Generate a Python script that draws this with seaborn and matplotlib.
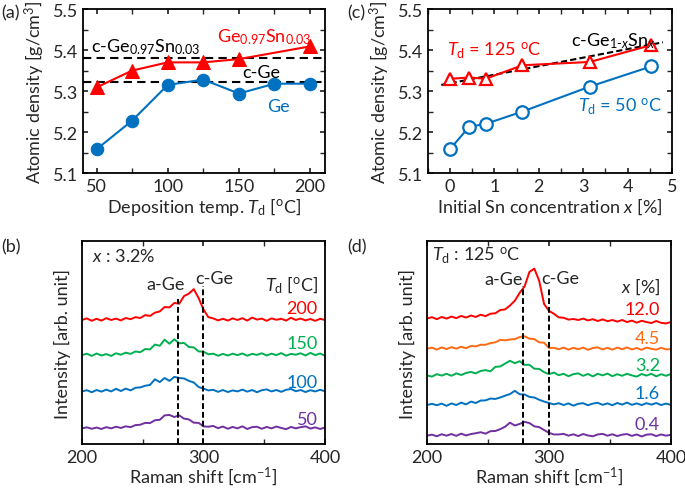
import numpy as np
import pandas as pd
import matplotlib
matplotlib.use("Agg")
import matplotlib.pyplot as plt
from matplotlib.ticker import MultipleLocator
import seaborn as sns

# ---------------- data ----------------
# (a) atomic density vs deposition temperature
temp_ge = [50, 75, 100, 125, 150, 175, 200]
dens_ge = [5.158, 5.228, 5.315, 5.328, 5.294, 5.318, 5.318]
temp_gesn = [50, 75, 100, 125, 150, 200]
dens_gesn = [5.309, 5.350, 5.370, 5.370, 5.378, 5.409]
c_ge_ref = 5.322
c_gesn_ref = 5.380

# (c) atomic density vs initial Sn concentration
sn_conc = [0.0, 0.43, 0.8, 1.63, 3.15, 4.53]
dens_125 = [5.330, 5.333, 5.330, 5.363, 5.371, 5.412]
dens_50 = [5.159, 5.213, 5.220, 5.250, 5.311, 5.360]
vegard_x = [-0.2, 4.8]
vegard_y = [5.315, 5.419]

# Raman spectra, 200-400 cm-1 sampled every 4 cm-1
raman_shift = np.arange(200, 401, 4)

b_labels = ["200", "150", "100", "50"]
b_spectra = [
    [0.00, 0.08, -0.04, 0.06, -0.03, 0.09, 0.00, 0.07, -0.02, 0.10, 0.04, 0.14, 0.10, 0.24, 0.20, 0.36, 0.42,
     0.64, 0.62, 0.84, 0.80, 1.18, 1.30, 1.52, 1.08, 0.52, 0.14, 0.08, -0.02, 0.06, -0.03, 0.08, 0.00, 0.09,
     -0.03, 0.12, 0.02, 0.07, -0.04, 0.08, 0.01, 0.06, -0.03, 0.11, 0.00, 0.07, -0.02, 0.05, -0.04, 0.06, 0.00],
    [0.00, 0.07, -0.04, 0.08, -0.02, 0.05, -0.04, 0.09, 0.02, 0.12, 0.06, 0.18, 0.14, 0.30, 0.28, 0.52, 0.46,
     0.76, 0.56, 0.78, 0.58, 0.60, 0.40, 0.38, 0.18, 0.17, 0.04, 0.07, -0.03, 0.06, -0.02, 0.07, 0.00, 0.08,
     -0.03, 0.06, 0.01, 0.09, -0.02, 0.07, 0.00, 0.10, -0.03, 0.06, 0.02, 0.09, -0.02, 0.11, 0.00, 0.08, -0.03],
    [0.00, 0.06, -0.04, 0.07, -0.01, 0.09, 0.00, 0.13, 0.02, 0.14, 0.05, 0.18, 0.20, 0.28, 0.32, 0.60, 0.46,
     0.66, 0.52, 0.72, 0.66, 0.64, 0.52, 0.44, 0.22, 0.14, 0.05, 0.08, -0.02, 0.07, -0.03, 0.05, 0.00, 0.09,
     -0.01, 0.07, -0.04, 0.06, 0.10, 0.00, 0.07, -0.02, 0.08, 0.12, 0.01, 0.07, -0.03, 0.06, 0.00, 0.08, 0.01],
    [0.00, 0.05, -0.02, 0.04, -0.03, 0.06, 0.00, 0.08, 0.02, 0.10, 0.06, 0.16, 0.18, 0.27, 0.26, 0.40, 0.42,
     0.64, 0.66, 0.56, 0.64, 0.48, 0.44, 0.28, 0.27, 0.10, 0.08, 0.12, 0.01, 0.09, -0.02, 0.07, 0.00, 0.10,
     -0.03, 0.06, 0.08, -0.02, 0.07, 0.00, 0.09, 0.02, -0.04, 0.07, 0.00, 0.06, 0.10, -0.01, 0.05, -0.03, 0.04],
]

d_labels = ["12.0", "4.5", "3.2", "1.6", "0.4"]
d_spectra = [
    [0.00, 0.07, -0.03, 0.08, 0.00, 0.10, 0.02, 0.13, 0.05, 0.15, 0.08, 0.19, 0.12, 0.24, 0.26, 0.42, 0.45,
     0.64, 0.88, 1.27, 1.58, 2.30, 2.46, 1.86, 0.72, 0.38, 0.24, 0.06, 0.04, -0.05, -0.02, -0.07, 0.00, -0.09,
     -0.03, -0.12, -0.04, -0.13, -0.07, -0.15, -0.07, -0.17, -0.10, -0.20, -0.11, -0.17, -0.22, -0.12, -0.21,
     -0.24, -0.17],
    [0.00, 0.06, -0.04, 0.07, -0.01, 0.08, 0.01, 0.10, 0.03, 0.14, 0.12, 0.20, 0.20, 0.28, 0.32, 0.44, 0.42,
     0.46, 0.48, 0.58, 0.62, 0.50, 0.48, 0.32, 0.30, 0.04, 0.05, -0.02, 0.06, -0.04, 0.05, -0.02, 0.06, -0.05,
     0.04, 0.07, -0.03, 0.05, -0.04, 0.06, -0.02, 0.07, -0.03, 0.04, -0.05, 0.06, 0.00, -0.04, 0.05, -0.03, -0.01],
    [0.00, -0.06, 0.06, -0.01, 0.08, -0.02, 0.10, 0.02, 0.12, 0.17, 0.10, 0.22, 0.26, 0.20, 0.42, 0.44, 0.58,
     0.72, 0.60, 0.70, 0.52, 0.52, 0.33, 0.32, 0.16, 0.06, 0.14, 0.01, 0.08, -0.04, 0.06, 0.10, -0.02, 0.07,
     -0.05, 0.08, 0.00, 0.09, -0.04, 0.06, -0.02, 0.08, 0.00, -0.06, 0.07, -0.01, 0.08, -0.05, 0.06, -0.02, 0.07],
    [0.00, 0.06, -0.01, 0.07, -0.04, 0.08, 0.00, 0.12, 0.03, 0.17, 0.10, 0.22, 0.23, 0.32, 0.30, 0.37, 0.46,
     0.54, 0.70, 0.53, 0.52, 0.40, 0.37, 0.26, 0.17, 0.10, 0.03, 0.09, 0.00, 0.08, -0.03, 0.06, 0.09, -0.01,
     0.07, 0.11, 0.01, 0.08, -0.01, 0.10, 0.02, 0.12, 0.01, 0.08, 0.00, 0.09, 0.02, 0.10, 0.00, 0.07, 0.01],
    [0.00, 0.05, -0.03, 0.07, 0.00, 0.08, -0.01, 0.10, 0.01, 0.08, 0.12, 0.17, 0.10, 0.22, 0.23, 0.32, 0.44,
     0.64, 0.50, 0.58, 0.68, 0.62, 0.46, 0.42, 0.28, 0.14, 0.06, 0.06, 0.09, 0.00, 0.07, -0.02, 0.08, 0.01,
     -0.03, 0.06, 0.09, 0.00, 0.07, -0.02, 0.05, 0.08, -0.01, 0.06, -0.04, 0.05, 0.07, -0.02, 0.06, 0.00, 0.04],
]

a_ge_peak = 279
c_ge_peak = 300

# ---------------- style ----------------
RED = "#ff0000"
BLUE = "#0070c0"
GREEN = "#00b050"
ORANGE = "#ff6a13"
PURPLE = "#7030a0"

sns.set_theme(style="ticks")
plt.rcParams.update({
    "font.family": ["Lato", "DejaVu Sans"],
    "font.size": 13,
    "mathtext.fontset": "custom",
    "mathtext.rm": "Lato",
    "mathtext.it": "Lato:italic",
    "axes.linewidth": 1.3,
    "xtick.direction": "in",
    "ytick.direction": "in",
    "xtick.top": True,
    "ytick.right": True,
    "xtick.labelsize": 13,
    "ytick.labelsize": 13,
    "axes.labelsize": 13,
    "xtick.major.size": 3.5,
    "ytick.major.size": 3.5,
    "xtick.minor.size": 3.5,
    "ytick.minor.size": 3.5,
    "axes.edgecolor": "black",
})

fig = plt.figure(figsize=(6.85, 4.89), dpi=100)
ax_a = fig.add_axes([0.1212, 0.644, 0.3533, 0.3354])
ax_c = fig.add_axes([0.6248, 0.644, 0.356, 0.3354])
ax_b = fig.add_axes([0.1197, 0.09, 0.3547, 0.415])
ax_d = fig.add_axes([0.6234, 0.09, 0.356, 0.415])

# ---------------- (a) ----------------
ax_a.axhline(c_gesn_ref, color="black", ls=(0, (4, 2.5)), lw=1.5, zorder=1)
ax_a.axhline(c_ge_ref, color="black", ls=(0, (4, 2.5)), lw=1.5, zorder=1)
sns.lineplot(x=temp_gesn, y=dens_gesn, ax=ax_a, color=RED, marker="^", markersize=10,
             markeredgecolor=RED, lw=1.5, zorder=3)
sns.lineplot(x=temp_ge, y=dens_ge, ax=ax_a, color=BLUE, marker="o", markersize=9,
             markeredgecolor=BLUE, lw=1.5, zorder=3)
ax_a.set_xlim(40.5, 210.5)
ax_a.set_ylim(5.1, 5.5)
ax_a.xaxis.set_major_locator(MultipleLocator(50))
ax_a.xaxis.set_minor_locator(MultipleLocator(25))
ax_a.yaxis.set_major_locator(MultipleLocator(0.1))
ax_a.yaxis.set_minor_locator(MultipleLocator(0.05))
ax_a.set_xlabel(r"Deposition temp. $T_\mathrm{d}$ [$^\mathrm{o}$C]", labelpad=1)
ax_a.set_ylabel(r"Atomic density [g/cm$^3$]", labelpad=4)
ax_a.text(46, 5.41, r"c-Ge$_{0.97}$Sn$_{0.03}$", color="black", va="center", fontsize=13)
ax_a.text(134.5, 5.435, r"Ge$_{0.97}$Sn$_{0.03}$", color=RED, va="center", fontsize=13)
ax_a.text(152, 5.328, "c-Ge", color="black", va="bottom", fontsize=13)
ax_a.text(170, 5.263, "Ge", color=BLUE, va="center", fontsize=13)

# ---------------- (c) ----------------
sns.lineplot(x=vegard_x, y=vegard_y, ax=ax_c, color="black", ls=(0, (3, 1.5)), lw=1.5, zorder=1)
sns.lineplot(x=sn_conc, y=dens_125, ax=ax_c, color=RED, marker="^", markersize=9,
             markerfacecolor="white", markeredgecolor=RED, markeredgewidth=1.6, lw=1.5, zorder=3)
sns.lineplot(x=sn_conc, y=dens_50, ax=ax_c, color=BLUE, marker="o", markersize=9,
             markerfacecolor="white", markeredgecolor=BLUE, markeredgewidth=1.6, lw=1.5, zorder=3)
ax_c.set_xlim(-0.5, 5.0)
ax_c.set_ylim(5.1, 5.5)
ax_c.xaxis.set_major_locator(MultipleLocator(1))
ax_c.xaxis.set_minor_locator(MultipleLocator(0.5))
ax_c.yaxis.set_major_locator(MultipleLocator(0.1))
ax_c.yaxis.set_minor_locator(MultipleLocator(0.05))
ax_c.set_xlabel(r"Initial Sn concentration $x$ [%]", labelpad=1)
ax_c.set_ylabel(r"Atomic density [g/cm$^3$]", labelpad=4)
ax_c.text(-0.08, 5.4, r"$T_\mathrm{d}$ = 125 $^\mathrm{o}$C", color=RED, va="center", fontsize=13)
ax_c.text(2.73, 5.425, r"c-Ge$_{1\text{-}x}$Sn$_x$", color="black", va="center", fontsize=13)
ax_c.text(2.88, 5.264, r"$T_\mathrm{d}$ = 50 $^\mathrm{o}$C", color=BLUE, va="center", fontsize=13)


def raman_panel(ax, spectra, labels, colors, offsets, label_y, lab_x):
    for spec, col, off in zip(spectra, colors, offsets):
        df = pd.DataFrame({"shift": raman_shift, "intensity": np.array(spec) + off})
        sns.lineplot(data=df, x="shift", y="intensity", ax=ax, color=col, lw=1.4)
    for lab, col, ly in zip(labels, colors, label_y):
        ax.text(lab_x, ly, lab, color=col, ha="right", va="center", fontsize=13)
    ax.set_xlim(200, 400)
    ax.set_ylim(0, 10)
    ax.xaxis.set_major_locator(MultipleLocator(100))
    ax.xaxis.set_minor_locator(MultipleLocator(50))
    ax.set_yticks([])
    ax.tick_params(axis="y", which="both", left=False, right=False)
    ax.set_xlabel(r"Raman shift [cm$^{-1}$]", labelpad=0)
    ax.set_ylabel("Intensity [arb. unit]", labelpad=8)


# ---------------- (b) ----------------
raman_panel(ax_b, b_spectra, b_labels, [RED, GREEN, BLUE, PURPLE], [6.11, 4.38, 2.59, 0.77],
            [6.72, 4.97, 3.07, 1.23], 394)
ax_b.plot([a_ge_peak, a_ge_peak], [0, 7.13], color="black", ls=(0, (3, 1.5)), lw=1.4)
ax_b.plot([c_ge_peak, c_ge_peak], [0, 7.79], color="black", ls=(0, (3, 1.5)), lw=1.4)
ax_b.text(208, 9.3, r"$x$ : 3.2%", va="center", fontsize=13)
ax_b.text(268.5, 7.87, "a-Ge", ha="center", va="center", fontsize=13)
ax_b.text(309, 8.2, "c-Ge", ha="center", va="center", fontsize=13)
ax_b.text(394.5, 7.87, r"$T_\mathrm{d}$ [$^\mathrm{o}$C]", ha="right", va="center", fontsize=13)

# ---------------- (d) ----------------
raman_panel(ax_d, d_spectra, d_labels, [RED, ORANGE, GREEN, BLUE, PURPLE],
            [6.18, 4.69, 3.38, 1.92, 0.41], [6.64, 5.21, 3.89, 2.51, 0.98], 391)
ax_d.plot([a_ge_peak, a_ge_peak], [0, 7.79], color="black", ls=(0, (3, 1.5)), lw=1.4)
ax_d.plot([c_ge_peak, c_ge_peak], [0, 7.66], color="black", ls=(0, (3, 1.5)), lw=1.4)
ax_d.text(204.4, 9.3, r"$T_\mathrm{d}$ : 125 $^\mathrm{o}$C", va="center", fontsize=13)
ax_d.text(262.4, 8.11, "a-Ge", ha="center", va="center", fontsize=13)
ax_d.text(309.4, 8.2, "c-Ge", ha="center", va="center", fontsize=13)
ax_d.text(391.5, 7.79, r"$x$ [%]", ha="right", va="center", fontsize=13)

# panel letters
fig.text(0.002, 0.972, "(a)", fontsize=13, va="center")
fig.text(0.507, 0.972, "(c)", fontsize=13, va="center")
fig.text(0.002, 0.495, "(b)", fontsize=13, va="center")
fig.text(0.507, 0.495, "(d)", fontsize=13, va="center")

fig.savefig("out.png", dpi=100)
